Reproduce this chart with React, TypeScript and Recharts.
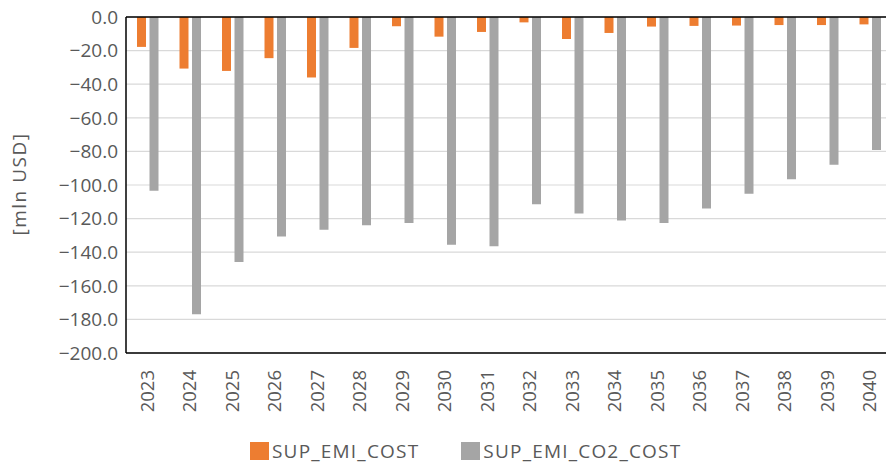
import { Bar, BarChart, CartesianGrid, Legend, ReferenceLine, XAxis, YAxis } from 'recharts';

const years = [
  '2023', '2024', '2025', '2026', '2027', '2028', '2029', '2030', '2031',
  '2032', '2033', '2034', '2035', '2036', '2037', '2038', '2039', '2040',
];
const supEmiCost = [
  -17.8, -30.7, -32.1, -24.5, -36.0, -18.4, -5.5, -11.7, -8.9,
  -3.2, -13.1, -9.5, -5.7, -5.3, -5.1, -4.8, -4.8, -4.4,
];
const supEmiCo2Cost = [
  -103.4, -177.0, -145.8, -130.7, -126.6, -124.0, -122.6, -135.5, -136.5,
  -111.5, -116.9, -121.2, -122.6, -114.0, -105.2, -96.6, -87.9, -79.2,
];
const yTicks = [0, -20, -40, -60, -80, -100, -120, -140, -160, -180, -200];

const ORANGE = '#ED7D31';
const GRAY = '#A5A5A5';
const TEXT = '#595959';
const FONT = '"Open Sans", sans-serif';

const data = years.map((year, i) => ({
  year,
  SUP_EMI_COST: supEmiCost[i],
  SUP_EMI_CO2_COST: supEmiCo2Cost[i],
}));

const formatTick = (v: number) => v.toFixed(1).replace('-', '\u2212');

const YearTick = ({ x, y, payload }: any) => (
  <g transform={`translate(${x},${y})`}>
    <text
      transform="rotate(-90)"
      x={-9}
      y={0}
      dy="0.35em"
      textAnchor="end"
      fill={TEXT}
      fontSize={18.5}
      fontFamily={FONT}
    >
      {payload.value}
    </text>
  </g>
);

const YLabel = () => (
  <text
    x={19}
    y={184}
    transform="rotate(-90, 19, 184)"
    textAnchor="middle"
    dominantBaseline="central"
    fill={TEXT}
    fontSize={19}
    fontFamily={FONT}
    style={{ letterSpacing: '1.5px' }}
  >
    [mln USD]
  </text>
);

const LegendContent = () => (
  <div
    style={{
      display: 'flex',
      alignItems: 'center',
      paddingTop: 19,
      fontFamily: FONT,
      fontSize: 19,
      color: TEXT,
      letterSpacing: '1.2px',
      lineHeight: '18px',
      whiteSpace: 'nowrap',
    }}
  >
    {[
      { name: 'SUP_EMI_COST', color: ORANGE },
      { name: 'SUP_EMI_CO2_COST', color: GRAY },
    ].map((item, i) => (
      <div key={item.name} style={{ display: 'flex', alignItems: 'center', marginLeft: i ? 42 : 0 }}>
        <span style={{ width: 19, height: 18, background: item.color, marginRight: 3 }} />
        <span>{item.name}</span>
      </div>
    ))}
  </div>
);

export default function App() {
  return (
    <div style={{ position: 'absolute', left: 0, top: 0, width: 886, height: 463, overflow: 'hidden', background: '#fff' }}>
      <BarChart
        width={892}
        height={463}
        data={data}
        margin={{ top: 17, right: 1, left: 0, bottom: 0 }}
        barSize={9}
        barGap={3.5}
      >
        <CartesianGrid vertical={false} stroke="#D9D9D9" strokeWidth={1.2} />
        <XAxis
          dataKey="year"
          height={70}
          interval={0}
          tickLine={false}
          axisLine={{ stroke: '#000', strokeWidth: 1.5 }}
          tick={<YearTick />}
        />
        <YAxis
          width={126}
          domain={[-200, 0]}
          ticks={yTicks}
          interval={0}
          tickLine={false}
          axisLine={{ stroke: '#000', strokeWidth: 1.5 }}
          tickFormatter={formatTick}
          tick={{ fill: TEXT, fontSize: 19, fontFamily: FONT }}
          label={<YLabel />}
        />
        <ReferenceLine y={0} stroke="#000" strokeWidth={1.5} />
        <Bar dataKey="SUP_EMI_COST" fill={ORANGE} isAnimationActive={false} />
        <Bar dataKey="SUP_EMI_CO2_COST" fill={GRAY} isAnimationActive={false} />
        <Legend
          verticalAlign="bottom"
          content={<LegendContent />}
          wrapperStyle={{ left: 250, top: 423, width: 480, height: 40 }}
        />
      </BarChart>
    </div>
  );
}
